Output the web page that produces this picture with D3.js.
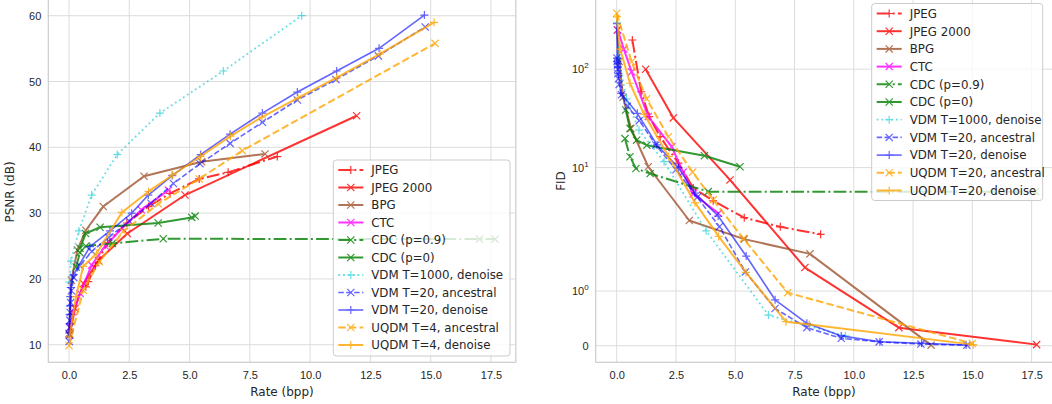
<!DOCTYPE html>
<head>
    <title>Rate / PSNR / FID</title>
    <style>
        body{ margin: 0; background: white; }
        svg{ display: block; font-family: "DejaVu Sans", sans-serif; }
        .tick text{ fill: #262626; font-size: 11px; }
        .lbl{ fill: #262626; font-size: 12px; }
        .leg{ fill: #262626; font-size: 11.8px; }
    </style>
    <script src="https://d3js.org/d3.v7.min.js"></script>
</head>
<body>
    <svg width="1052" height="404"></svg>

    <script>
        // PSNR-Werte [Rate (bpp), PSNR (dB)]
        const psnr_jpeg = [[0.7,18.8],[0.8,19.6],[1.1,22.0],[1.6,25.5],[2.4,28.5],[3.3,31.0],[4.19,33.0],[5.4,35.2],[6.6,36.2],[8.64,38.6]];
        const psnr_jp2k = [[0.03,11.5],[0.25,15.5],[0.6,19.3],[1.22,22.8],[2.42,26.9],[4.81,32.75],[11.93,44.8]];
        const psnr_bpg = [[0.0,11.7],[0.1,19.8],[0.35,24.4],[0.7,27.4],[1.42,31.0],[3.11,35.6],[5.5,37.8],[8.13,39.0]];
        const psnr_ctc = [[0.05,12.7],[0.15,15.0],[0.46,17.8],[0.94,22.1],[1.5,25.0],[2.2,27.7],[3.0,30.5],[4.12,33.5]];
        const psnr_cdc09 = [[0.3,21.8],[0.45,24.0],[0.7,25.0],[1.8,25.4],[3.91,26.1],[17.02,26.05],[17.67,26.05]];
        const psnr_cdc0 = [[0.46,24.65],[0.69,26.9],[1.29,27.85],[3.7,28.5],[5.09,29.35],[5.23,29.55]];
        const psnr_vdm1000 = [[0.02,19.5],[0.08,22.7],[0.41,27.3],[0.94,32.75],[2.0,38.9],[3.77,45.2],[6.4,51.6],[9.65,60.0]];
        const psnr_vdm_anc = [[0.01,10.5],[0.02,11.5],[0.03,12.6],[0.04,13.7],[0.05,14.9],[0.07,16.4],[0.1,18.2],[0.2,20.2],[0.45,22.0],[0.95,24.2],[1.65,26.3],[2.5,28.8],[3.4,31.5],[4.33,34.5],[5.43,37.5],[6.68,40.6],[8.02,43.8],[9.47,47.2],[11.07,50.3],[12.83,53.9],[14.77,58.3]];
        const psnr_vdm_den = [[0.01,11.8],[0.02,13.2],[0.03,14.6],[0.04,15.9],[0.05,17.3],[0.07,18.7],[0.18,20.6],[0.87,24.9],[1.7,27.3],[2.6,30.0],[3.29,32.75],[4.28,35.7],[5.46,38.9],[6.68,42.0],[8.02,45.2],[9.47,48.4],[11.1,51.6],[12.86,55.05],[14.74,60.1]];
        const psnr_uqdm_anc = [[0.0,9.85],[0.59,18.3],[1.26,22.6],[2.25,27.2],[3.7,31.4],[5.4,35.2],[7.19,39.5],[15.18,55.8]];
        const psnr_uqdm_den = [[0.02,11.2],[0.29,17.3],[0.59,21.9],[1.15,23.9],[2.19,30.1],[3.3,33.3],[4.3,35.8],[5.45,38.6],[6.7,41.7],[8.0,44.6],[9.5,47.5],[11.1,50.6],[12.9,54.2],[15.14,59.0]];

        // FID-Werte [Rate (bpp), FID]
        const fid_jpeg = [[0.66,198],[1.03,59],[1.37,33],[1.83,20.6],[2.6,11.1],[3.23,6.2],[4.07,4.6],[5.38,3.1],[6.9,2.5],[8.6,2.1]];
        const fid_jp2k = [[1.22,100],[2.39,32],[4.78,7.5],[7.94,1.43],[11.9,0.33],[17.71,0.02]];
        const fid_bpg = [[0.02,250],[0.1,120],[0.27,52],[0.6,25],[1.33,10.2],[3.06,2.9],[5.38,1.95],[8.15,1.68],[13.26,0.01]];
        const fid_ctc = [[0.05,250],[0.3,160],[0.63,94],[1.33,33],[2.32,16.3],[2.8,9],[3.23,5.4],[4.29,3.43]];
        const fid_cdc09 = [[0.35,19.7],[0.56,12.9],[0.81,9.8],[1.41,8.7],[3.86,5.7],[16.9,5.7],[17.67,5.7]];
        const fid_cdc0 = [[0.38,38.5],[0.56,25],[0.84,19],[1.27,16.9],[3.7,13.2],[5.2,10.2]];
        const fid_vdm1000 = [[0.02,300],[0.08,130],[0.41,50],[0.94,24],[2.0,11.5],[3.77,2.28],[6.4,0.56],[9.65,0.18]];
        const fid_vdm_anc = [[0.01,130],[0.02,120],[0.03,110],[0.04,100],[0.05,90],[0.07,80],[0.1,70],[0.2,55],[0.45,42],[0.95,30],[1.65,17],[2.5,9.5],[3.4,5.0],[4.33,2.51],[5.43,1.35],[6.68,0.68],[8.02,0.33],[9.47,0.135],[11.07,0.07],[12.83,0.03],[14.77,0.01]];
        const fid_vdm_den = [[0.01,290],[0.02,130],[0.03,120],[0.04,115],[0.05,105],[0.07,90],[0.18,57],[0.87,35.6],[1.7,17],[2.6,10],[3.3,5.5],[4.28,3.22],[5.46,1.64],[6.68,0.84],[8.02,0.41],[9.47,0.18],[11.1,0.073],[12.86,0.044],[14.74,0.013]];
        const fid_uqdm_anc = [[0.0,370],[0.63,119],[1.26,50],[2.18,20.6],[3.2,9],[4.07,4.7],[5.34,1.96],[7.21,0.97],[15.0,0.04]];
        const fid_uqdm_den = [[0.0,340],[0.15,160],[0.56,72],[1.15,35],[2.19,13],[3.3,4.4],[4.3,2.0],[5.45,1.34],[7.14,0.44],[8.12,0.39],[15.04,0.02]];

        const labels_psnr = ["JPEG","JPEG 2000","BPG","CTC","CDC (p=0.9)","CDC (p=0)","VDM T=1000, denoise","VDM T=20, ancestral","VDM T=20, denoise","UQDM T=4, ancestral","UQDM T=4, denoise"];
        const labels_fid = ["JPEG","JPEG 2000","BPG","CTC","CDC (p=0.9)","CDC (p=0)","VDM T=1000, denoise","VDM T=20, ancestral","VDM T=20, denoise","UQDM T=20, ancestral","UQDM T=20, denoise"];
        const x_ticks = [0, 2.5, 5, 7.5, 10, 12.5, 15, 17.5];
        const psnr_ticks = [10, 20, 30, 40, 50, 60];
        const fid_ticks = [0, 1, 10, 100];

        // Linienstile pro Serie (gleiche Reihenfolge wie Legende)
        const styles = [
            {color:"red", op:0.8, w:2, dash:"12.8,3.2,2,3.2", m:"+"},
            {color:"red", op:0.8, w:2, dash:null, m:"x"},
            {color:"#a0522d", op:0.8, w:2, dash:null, m:"x"},
            {color:"magenta", op:0.8, w:2, dash:null, m:"x"},
            {color:"green", op:0.8, w:2, dash:"12.8,3.2,2,3.2", m:"x"},
            {color:"green", op:0.8, w:2, dash:null, m:"x"},
            {color:"#00c8d0", op:0.6, w:1.8, dash:"1.8,3", m:"+"},
            {color:"blue", op:0.6, w:1.6, dash:"5.5,2.4", m:"x"},
            {color:"blue", op:0.6, w:1.6, dash:null, m:"+"},
            {color:"orange", op:0.8, w:2, dash:"7.4,3.2", m:"x"},
            {color:"orange", op:0.8, w:2, dash:null, m:"+"}
        ];
        const marker = {
            "+": "M-4,0H4M0,-4V4",
            "x": "M-3.6,-3.6L3.6,3.6M-3.6,3.6L3.6,-3.6"
        };

        // symlog wie matplotlib (linthresh=2, linscale=1)
        function symlog(v){
            const L = 2, la = 1/(1-1/10);
            const a = Math.abs(v);
            return a <= L ? v*la : Math.sign(v)*L*(la + Math.log10(a/L));
        }

        const svg = d3.select("svg");

        function drawPanel(cfg){
            const g = svg.append("g");
            const x = cfg.x, y = cfg.y;
            const [x0, x1] = x.range(), [y0, y1] = y.range();

            // Gitter
            g.selectAll(".gx").data(x_ticks).enter().append("line")
                .attr("x1", d => x(d)).attr("x2", d => x(d))
                .attr("y1", y0).attr("y2", Math.max(y1, 0))
                .attr("stroke", "#dcdcdc").attr("stroke-width", 1);
            g.selectAll(".gy").data(cfg.yticks).enter().append("line")
                .attr("x1", x0).attr("x2", x1)
                .attr("y1", d => y(cfg.tf(d))).attr("y2", d => y(cfg.tf(d)))
                .attr("stroke", "#dcdcdc").attr("stroke-width", 1);

            // Rahmen
            g.append("rect").attr("x", x0).attr("y", y1).attr("width", x1-x0).attr("height", y0-y1)
                .attr("fill", "none").attr("stroke", "#cccccc").attr("stroke-width", 1.2);

            // Achsen
            const ax = g.append("g").attr("transform", "translate(0,"+y0+")")
                .call(d3.axisBottom(x).tickValues(x_ticks).tickSize(0).tickPadding(9).tickFormat(d3.format(".1f")));
            ax.select(".domain").remove();
            const ay = g.append("g").attr("transform", "translate("+x0+",0)")
                .call(d3.axisLeft(d3.scaleLinear().domain(y.domain()).range(y.range()))
                    .tickValues(cfg.yticks.map(cfg.tf)).tickSize(0).tickPadding(7).tickFormat(""));
            ay.select(".domain").remove();
            ay.selectAll(".tick text").each(function(d, i){
                const t = d3.select(this);
                cfg.tickLabel(t, cfg.yticks[i]);
            });

            g.append("text").attr("class", "lbl").attr("text-anchor", "middle")
                .attr("x", cfg.xlx).attr("y", 396).text("Rate (bpp)");
            g.append("text").attr("class", "lbl").attr("text-anchor", "middle")
                .attr("transform", "translate("+cfg.ylx+","+cfg.yly+") rotate(-90)").text(cfg.ylabel);

            // Kurven
            const line = d3.line().x(d => x(d[0])).y(d => y(cfg.tf(d[1])));
            cfg.series.forEach((s, i) => {
                const st = styles[i];
                const sg = g.append("g").attr("opacity", st.op);
                sg.append("path").attr("d", line(s))
                    .attr("fill", "none").attr("stroke", st.color).attr("stroke-width", st.w)
                    .attr("stroke-dasharray", st.dash).attr("stroke-linejoin", "round");
                sg.selectAll("path.mk").data(s).enter().append("path").attr("class", "mk")
                    .attr("transform", d => "translate("+x(d[0])+","+y(cfg.tf(d[1]))+")")
                    .attr("d", marker[st.m]).attr("stroke", st.color).attr("stroke-width", 1.2).attr("fill", "none");
            });

            // Legende
            const L = cfg.legend;
            const lg = g.append("g");
            lg.append("rect").attr("x", L.x).attr("y", L.y).attr("width", L.w).attr("height", L.h)
                .attr("rx", 3).attr("fill", "white").attr("fill-opacity", 0.8)
                .attr("stroke", "#cccccc").attr("stroke-width", 1);
            cfg.labels.forEach((lab, i) => {
                const st = styles[i];
                const cy = L.y + 10 + i*L.step;
                const eg = lg.append("g").attr("opacity", st.op);
                eg.append("line").attr("x1", L.x+5).attr("x2", L.x+30).attr("y1", cy).attr("y2", cy)
                    .attr("stroke", st.color).attr("stroke-width", st.w).attr("stroke-dasharray", st.dash);
                eg.append("path").attr("transform", "translate("+(L.x+17.5)+","+cy+")")
                    .attr("d", marker[st.m]).attr("stroke", st.color).attr("stroke-width", 1.2);
                lg.append("text").attr("class", "leg").attr("x", L.x+38).attr("y", cy+4.3).text(lab);
            });
        }

        drawPanel({
            x: d3.scaleLinear().domain([-0.858, 18.53]).range([48.3, 515.8]),
            y: d3.scaleLinear().domain([7.33, 62.8]).range([362.3, -2.7]),
            tf: v => v,
            yticks: psnr_ticks,
            tickLabel: (t, v) => t.text(v),
            ylabel: "PSNR (dB)", ylx: 14, yly: 192, xlx: 282,
            series: [psnr_jpeg, psnr_jp2k, psnr_bpg, psnr_ctc, psnr_cdc09, psnr_cdc0, psnr_vdm1000, psnr_vdm_anc, psnr_vdm_den, psnr_uqdm_anc, psnr_uqdm_den],
            labels: labels_psnr,
            legend: {x:333.3, y:160, w:176.7, h:196, step:17.5}
        });

        drawPanel({
            x: d3.scaleLinear().domain([-0.886, 18.6]).range([595.7, 1057.7]),
            y: d3.scaleLinear().domain([-0.337, 7.1]).range([362.3, -3.6]),
            tf: symlog,
            yticks: fid_ticks,
            tickLabel: (t, v) => {
                if (v === 0) { t.text("0"); return; }
                t.text("10");
                t.append("tspan").attr("dy", -5).attr("font-size", "8px").text(Math.round(Math.log10(v)));
            },
            ylabel: "FID", ylx: 565, yly: 181, xlx: 824,
            series: [fid_jpeg, fid_jp2k, fid_bpg, fid_ctc, fid_cdc09, fid_cdc0, fid_vdm1000, fid_vdm_anc, fid_vdm_den, fid_uqdm_anc, fid_uqdm_den],
            labels: labels_fid,
            legend: {x:871.7, y:3.5, w:171, h:197, step:17.7}
        });
    </script>
</body>
</html>
